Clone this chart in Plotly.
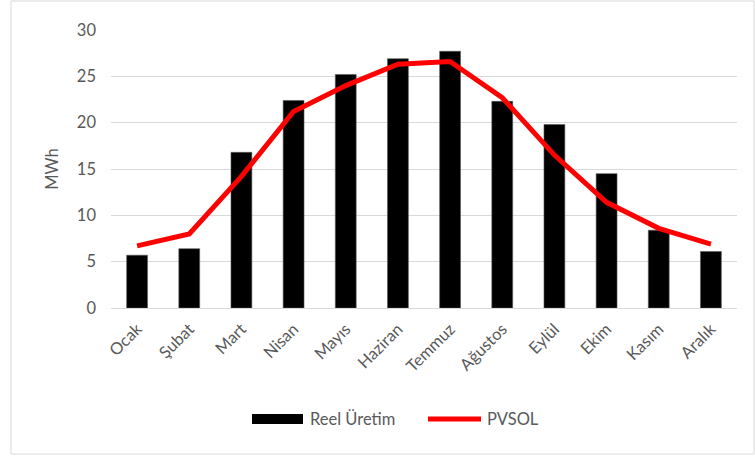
import plotly.graph_objects as go

# Monthly energy: measured production vs. PVSOL simulation (MWh)
months = ["Ocak", "Şubat", "Mart", "Nisan", "Mayıs", "Haziran",
          "Temmuz", "Ağustos", "Eylül", "Ekim", "Kasım", "Aralık"]
reel_uretim = [5.7, 6.4, 16.8, 22.4, 25.2, 26.9, 27.7, 22.3, 19.8, 14.5, 8.4, 6.1]
pvsol = [6.7, 8.0, 14.2, 21.2, 24.0, 26.3, 26.6, 22.7, 16.5, 11.4, 8.6, 6.9]
y_ticks = [0, 5, 10, 15, 20, 25, 30]

FONT = "Lato, 'Open Sans', sans-serif"
GREY_TEXT = "#595959"
FS = 16.5

fig = go.Figure()
fig.add_trace(go.Bar(
    x=months, y=reel_uretim, name="Reel Üretim",
    marker=dict(color="#000000", line=dict(color="#595959", width=0.6)),
))
fig.add_trace(go.Scatter(
    x=months, y=pvsol, name="PVSOL", mode="lines",
    line=dict(color="#FF0000", width=5),
))

# plot-area geometry in pixels, used to place the frame and legend in paper units
W, H = 755, 459
L, R, T, B = 111, 18, 30, 151
pw, ph = W - L - R, H - T - B


def px(x):
    return (x - L) / pw


def py(y):
    return (H - B - y) / ph


shapes = [
    # outer chart frame
    dict(type="rect", xref="paper", yref="paper",
         x0=px(11), x1=px(754), y0=py(454), y1=py(1),
         line=dict(color="#d9d9d9", width=1), fillcolor="rgba(0,0,0,0)", layer="below"),
    # legend swatches
    dict(type="rect", xref="paper", yref="paper",
         x0=px(252), x1=px(303), y0=py(424), y1=py(414),
         line=dict(width=0), fillcolor="#000000"),
    dict(type="line", xref="paper", yref="paper",
         x0=px(428), x1=px(481), y0=py(419), y1=py(419),
         line=dict(color="#FF0000", width=5)),
]
annotations = [
    dict(text="Reel Üretim", xref="paper", yref="paper", x=px(308), y=py(419),
         xanchor="left", yanchor="middle", showarrow=False,
         font=dict(family=FONT, size=FS, color=GREY_TEXT)),
    dict(text="PVSOL", xref="paper", yref="paper", x=px(485), y=py(419),
         xanchor="left", yanchor="middle", showarrow=False,
         font=dict(family=FONT, size=FS, color=GREY_TEXT)),
]

fig.update_layout(
    width=W, height=H,
    margin=dict(l=L, r=R, t=T, b=B, pad=0),
    paper_bgcolor="white", plot_bgcolor="white",
    bargap=0.6, showlegend=False,
    font=dict(family=FONT, size=FS, color=GREY_TEXT),
    shapes=shapes, annotations=annotations,
    xaxis=dict(
        range=[-0.5, 11.5], tickangle=-45, showgrid=False,
        showline=True, linecolor="#d9d9d9", linewidth=1, ticks="",
        ticklabelstandoff=4,
        tickfont=dict(family=FONT, size=FS, color=GREY_TEXT),
    ),
    yaxis=dict(
        range=[0, 30], tickvals=y_ticks, showgrid=True,
        gridcolor="#d9d9d9", gridwidth=1, zeroline=False, showline=False,
        ticks="", ticklabelstandoff=14,
        tickfont=dict(family=FONT, size=FS, color=GREY_TEXT),
        title=dict(text="MWh", standoff=14,
                   font=dict(family=FONT, size=FS, color=GREY_TEXT)),
    ),
)

fig.write_html("out.html")
